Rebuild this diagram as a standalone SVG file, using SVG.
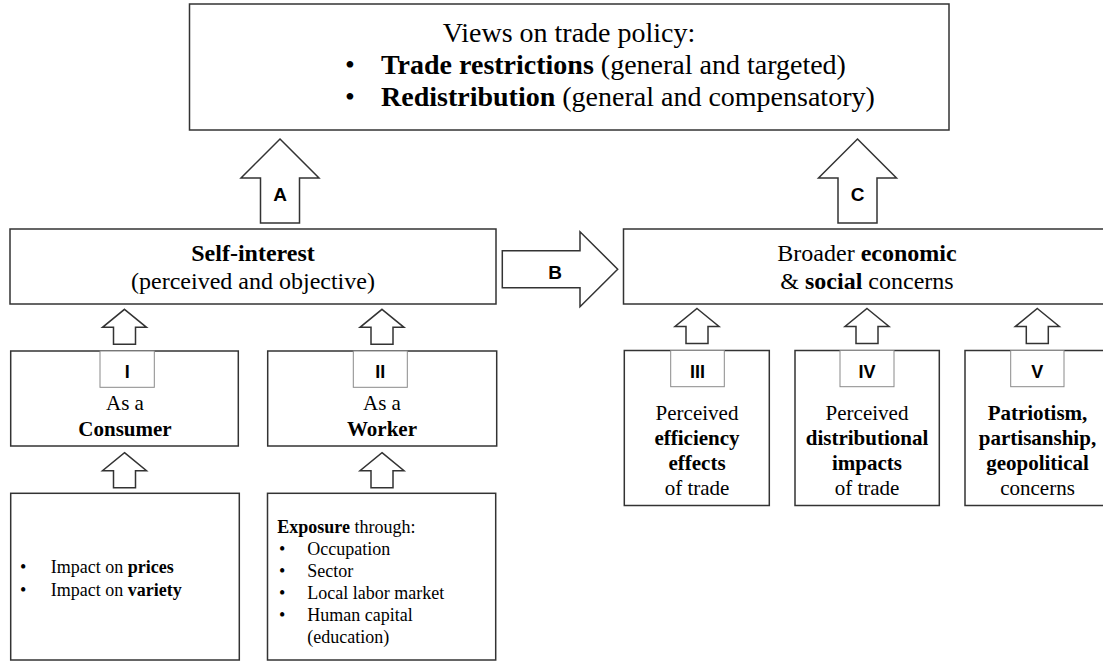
<svg xmlns="http://www.w3.org/2000/svg" xmlns:xlink="http://www.w3.org/1999/xlink" width="1103" height="662" viewBox="0 0 1103 662">
<style>
.box{fill:#fff;stroke:#333;stroke-width:1.5}
.tag{fill:#fff;stroke:#8a8a8a;stroke-width:1}
.arr{fill:#fff;stroke:#333;stroke-width:1.5;stroke-linejoin:miter}
.t{font-family:"Liberation Serif","Times New Roman",serif;fill:#000}
.b{font-weight:bold}
.lbl{font-family:"Liberation Sans",Arial,sans-serif;font-weight:bold;fill:#000;text-anchor:middle}
.c{text-anchor:middle}
</style>
<defs>
<path id="bigUp" d="M0,0 L39,39 L19.5,39 L19.5,84 L-19.5,84 L-19.5,39 L-39,39 Z"/>
<path id="smallUp" d="M0,0 L22,18 L11,18 L11,35 L-11,35 L-11,18 L-22,18 Z"/>
</defs>
<rect width="1103" height="662" fill="#fff"/>

<g id="connectors">
<use href="#bigUp" class="arr" x="280" y="139"/>
<use href="#bigUp" class="arr" x="857.5" y="139"/>
<path class="arr" d="M502.3,250.7 L580,250.7 L580,231.7 L617.7,269.2 L580,306.7 L580,287.7 L502.3,287.7 Z"/>
<use href="#smallUp" class="arr" x="124.5" y="309.3"/>
<use href="#smallUp" class="arr" x="382" y="309.3"/>
<use href="#smallUp" class="arr" x="697" y="308.5"/>
<use href="#smallUp" class="arr" x="867" y="308.5"/>
<use href="#smallUp" class="arr" x="1037.3" y="308.5"/>
<use href="#smallUp" class="arr" x="124.5" y="452.7"/>
<use href="#smallUp" class="arr" x="382" y="452.7"/>
<text class="lbl" x="280" y="201" font-size="19">A</text>
<text class="lbl" x="857.5" y="201" font-size="19">C</text>
<text class="lbl" x="555" y="278.5" font-size="19">B</text>
</g>

<g id="node-views">
<rect class="box" x="189.5" y="4" width="759.5" height="126"/>
<text class="t c" x="569" y="42" font-size="28">Views on trade policy:</text>
<text class="t" x="345" y="74" font-size="28">•</text>
<text class="t" x="381" y="74" font-size="28"><tspan class="b">Trade restrictions</tspan> (general and targeted)</text>
<text class="t" x="345" y="106" font-size="28">•</text>
<text class="t" x="381" y="106" font-size="28"><tspan class="b">Redistribution</tspan> (general and compensatory)</text>
</g>

<g id="node-self">
<rect class="box" x="10" y="229" width="486" height="75"/>
<text class="t c b" x="253" y="261" font-size="24">Self-interest</text>
<text class="t c" x="253" y="289" font-size="24">(perceived and objective)</text>
</g>

<g id="node-broader">
<rect class="box" x="623.5" y="229" width="490" height="75"/>
<text class="t c" x="867" y="261" font-size="24">Broader <tspan class="b">economic</tspan></text>
<text class="t c" x="867" y="289" font-size="24">&amp; <tspan class="b">social</tspan> concerns</text>
</g>

<g id="node-consumer">
<rect class="box" x="10.7" y="351" width="227.6" height="95"/>
<rect class="tag" x="100" y="351" width="54.3" height="36.3"/>
<text class="lbl" x="127.2" y="378" font-size="18">I</text>
<text class="t c" x="125" y="410" font-size="21">As a</text>
<text class="t c b" x="125" y="436" font-size="21">Consumer</text>
</g>

<g id="node-worker">
<rect class="box" x="267.7" y="351" width="229" height="95"/>
<rect class="tag" x="353.3" y="351" width="54" height="36.3"/>
<text class="lbl" x="380.3" y="378" font-size="18">II</text>
<text class="t c" x="382" y="410" font-size="21">As a</text>
<text class="t c b" x="382" y="436" font-size="21">Worker</text>
</g>

<g id="node-consumer-detail">
<rect class="box" x="10.7" y="493.3" width="228.6" height="166.7"/>
<text class="t" x="20" y="573" font-size="18">•</text>
<text class="t" x="50.7" y="573" font-size="18">Impact on <tspan class="b">prices</tspan></text>
<text class="t" x="20" y="595.5" font-size="18">•</text>
<text class="t" x="50.7" y="595.5" font-size="18">Impact on <tspan class="b">variety</tspan></text>
</g>

<g id="node-worker-detail">
<rect class="box" x="267.5" y="493.3" width="228.2" height="166.7"/>
<text class="t" x="277.3" y="533" font-size="18"><tspan class="b">Exposure</tspan> through:</text>
<text class="t" x="279" y="554.5" font-size="18">•</text>
<text class="t" x="307.3" y="554.5" font-size="18">Occupation</text>
<text class="t" x="279" y="576.5" font-size="18">•</text>
<text class="t" x="307.3" y="576.5" font-size="18">Sector</text>
<text class="t" x="279" y="598.5" font-size="18">•</text>
<text class="t" x="307.3" y="598.5" font-size="18">Local labor market</text>
<text class="t" x="279" y="621" font-size="18">•</text>
<text class="t" x="307.3" y="621" font-size="18">Human capital</text>
<text class="t" x="307.3" y="643" font-size="18">(education)</text>
</g>

<g id="node-efficiency">
<rect class="box" x="624.3" y="350.5" width="145" height="155"/>
<rect class="tag" x="670.7" y="350.5" width="53.6" height="36.2"/>
<text class="lbl" x="697.5" y="377.5" font-size="18">III</text>
<text class="t c" x="697" y="420" font-size="21">Perceived</text>
<text class="t c b" x="697" y="445" font-size="21">efficiency</text>
<text class="t c b" x="697" y="470" font-size="21">effects</text>
<text class="t c" x="697" y="495" font-size="21">of trade</text>
</g>

<g id="node-distributional">
<rect class="box" x="795" y="350.5" width="144.3" height="155"/>
<rect class="tag" x="840" y="350.5" width="54" height="36.2"/>
<text class="lbl" x="867" y="377.5" font-size="18">IV</text>
<text class="t c" x="867" y="420" font-size="21">Perceived</text>
<text class="t c b" x="867" y="445" font-size="21">distributional</text>
<text class="t c b" x="867" y="470" font-size="21">impacts</text>
<text class="t c" x="867" y="495" font-size="21">of trade</text>
</g>

<g id="node-patriotism">
<rect class="box" x="965" y="350.5" width="145" height="155"/>
<rect class="tag" x="1010.7" y="350.5" width="53.3" height="36.2"/>
<text class="lbl" x="1037.3" y="377.5" font-size="18">V</text>
<text class="t c b" x="1037.5" y="420" font-size="21">Patriotism,</text>
<text class="t c b" x="1037.5" y="445" font-size="21">partisanship,</text>
<text class="t c b" x="1037.5" y="470" font-size="21">geopolitical</text>
<text class="t c" x="1037.5" y="495" font-size="21">concerns</text>
</g>
</svg>
